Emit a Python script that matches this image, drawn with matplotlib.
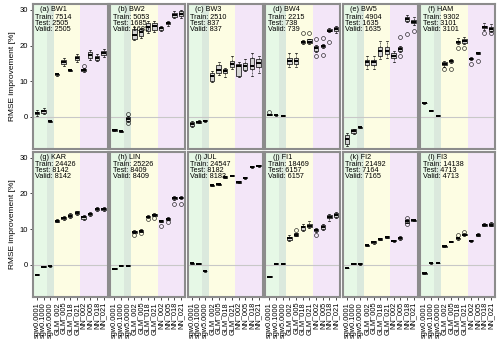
import matplotlib
matplotlib.use("Agg")
import matplotlib.pyplot as plt

plt.rcParams['font.family'] = ['Liberation Sans', 'DejaVu Sans']

# categories on the x axis
models = ["sgw0.0001", "sgw0.1000", "sgw5.0000", "GLM_002", "GLM_005", "GLM_018",
          "GLM_021", "NN_002", "NN_005", "NN_018", "NN_021"]

# one entry per panel
letters = ["a", "b", "c", "d", "e", "f", "g", "h", "i", "j", "k", "l"]
sites = ["BW1", "BW2", "BW3", "BW4", "BW5", "HAM", "KAR", "LIN", "JUL", "FI1", "FI2", "FI3"]
n_train = [7514, 5053, 2510, 2215, 4904, 9302, 24426, 25226, 24547, 18469, 21492, 14138]
n_test = [2505, 1685, 837, 738, 1635, 3101, 8142, 8409, 8182, 6157, 7164, 4713]
n_valid = [2505, 1685, 837, 739, 1635, 3101, 8142, 8409, 8183, 6157, 7165, 4713]

# boxplot statistics
medians = [
    [1.1, 1.6, -1.2, 11.9, 15.3, 13.1, 16.4, 13.2, 17.4, 16.6, 17.9],
    [-3.7, -4.0, -0.5, 23.0, 23.9, 25.3, 25.5, 24.9, 26.2, 28.6, 28.9],
    [-1.9, -1.3, -1.1, 11.4, 13.2, 12.8, 14.9, 14.2, 14.2, 14.4, 15.1],
    [0.65, 0.55, 0.4, 15.8, 15.8, 20.9, 21.1, 19.2, 19.8, 24.2, 24.6],
    [-6.3, -4.0, -2.9, 15.4, 15.4, 18.6, 18.5, 17.1, 19.1, 27.4, 26.7],
    [3.9, 1.8, 0.4, 14.9, 15.6, 20.9, 21.3, 16.3, 17.9, 25.2, 24.7],
    [-2.7, -0.55, -0.35, 12.4, 13.05, 13.8, 14.6, 13.3, 14.2, 15.6, 15.6],
    [-1.1, -0.2, -0.2, 9.3, 9.6, 13.5, 14.0, 12.3, 12.9, 18.7, 18.8],
    [0.45, 0.3, -1.7, 22.3, 22.6, 24.6, 25.0, 23.2, 24.4, 27.5, 27.7],
    [-3.3, 0.35, 0.35, 7.5, 8.5, 10.5, 11.0, 9.7, 10.7, 13.5, 13.9],
    [-0.85, 0.3, 0.35, 5.55, 6.3, 7.3, 7.8, 6.8, 7.5, 12.3, 12.5],
    [-2.4, 0.55, 0.55, 5.2, 6.5, 7.4, 8.5, 6.7, 8.4, 11.2, 11.2],
]
q1 = [
    [0.7, 1.2, -1.35, 11.7, 14.7, 12.95, 15.9, 12.9, 16.6, 15.9, 17.3],
    [-3.9, -4.15, -1.1, 21.9, 22.6, 24.0, 24.3, 24.4, 25.9, 28.1, 28.2],
    [-2.4, -1.6, -1.25, 10.0, 12.2, 12.3, 14.0, 11.6, 13.2, 13.4, 13.9],
    [0.55, 0.45, 0.3, 14.9, 14.9, 20.6, 20.7, 18.6, 19.5, 24.0, 24.1],
    [-7.5, -4.5, -3.0, 14.5, 14.5, 17.2, 17.5, 16.6, 18.6, 27.0, 26.2],
    [3.8, 1.7, 0.3, 14.6, 15.3, 20.6, 20.8, 16.1, 17.7, 24.8, 24.1],
    [-2.8, -0.65, -0.45, 12.1, 12.8, 13.4, 14.3, 12.9, 13.9, 15.3, 15.3],
    [-1.2, -0.3, -0.3, 9.0, 9.3, 13.3, 13.8, 12.1, 12.7, 18.4, 18.6],
    [0.35, 0.2, -1.8, 22.15, 22.45, 24.45, 24.85, 23.05, 24.25, 27.35, 27.55],
    [-3.4, 0.25, 0.25, 7.1, 8.2, 9.9, 10.5, 9.4, 10.1, 13.0, 13.4],
    [-0.95, 0.2, 0.15, 5.4, 6.0, 7.1, 7.6, 6.6, 7.2, 11.8, 12.35],
    [-2.5, 0.45, 0.45, 5.05, 6.35, 7.2, 8.3, 6.55, 8.2, 10.9, 10.9],
]
q3 = [
    [1.5, 2.0, -1.05, 12.1, 15.9, 13.25, 17.0, 13.5, 18.2, 17.2, 18.4],
    [-3.5, -3.85, 0.1, 24.5, 24.6, 26.4, 26.4, 25.3, 26.6, 29.2, 29.6],
    [-1.4, -1.0, -0.95, 12.3, 14.5, 13.3, 15.8, 14.9, 15.2, 16.6, 16.1],
    [0.75, 0.65, 0.5, 16.6, 16.6, 21.3, 21.7, 20.0, 20.1, 24.6, 25.1],
    [-5.0, -3.5, -2.8, 16.0, 16.0, 19.6, 19.6, 18.0, 19.6, 27.9, 27.1],
    [4.0, 1.9, 0.5, 15.3, 15.9, 21.2, 21.9, 16.5, 18.1, 25.6, 25.3],
    [-2.6, -0.45, -0.25, 12.7, 13.4, 14.2, 15.0, 13.7, 14.5, 15.9, 15.9],
    [-1.0, -0.1, -0.1, 9.6, 9.9, 13.7, 14.2, 12.5, 13.1, 19.0, 19.0],
    [0.55, 0.4, -1.6, 22.45, 22.75, 24.75, 25.15, 23.35, 24.55, 27.65, 27.85],
    [-3.2, 0.45, 0.45, 7.9, 8.8, 11.0, 11.5, 10.0, 11.1, 14.0, 14.4],
    [-0.75, 0.4, 0.55, 5.7, 6.6, 7.5, 8.0, 7.0, 7.8, 12.7, 12.65],
    [-2.3, 0.65, 0.65, 5.35, 6.65, 7.6, 8.7, 6.85, 8.7, 11.5, 11.6],
]
whislo = [
    [0.3, 0.8, -1.4, 11.6, 14.3, 12.9, 15.5, 12.7, 16.0, 15.6, 16.9],
    [-4.0, -4.3, -1.3, 21.5, 22.0, 23.6, 23.8, 24.1, 25.6, 27.8, 27.8],
    [-2.7, -1.8, -1.3, 9.8, 11.8, 11.1, 13.3, 11.3, 12.8, 11.5, 12.3],
    [0.5, 0.4, 0.25, 14.0, 14.0, 20.3, 20.4, 18.2, 19.2, 23.8, 23.6],
    [-8.0, -4.7, -3.05, 13.5, 13.5, 16.2, 16.4, 15.5, 18.3, 26.7, 25.8],
    [3.75, 1.65, 0.25, 14.1, 15.1, 20.3, 20.4, 15.9, 17.5, 24.4, 23.9],
    [-2.85, -0.7, -0.5, 11.9, 12.6, 13.2, 14.1, 12.7, 13.7, 15.1, 15.1],
    [-1.25, -0.35, -0.35, 8.8, 9.1, 13.1, 13.6, 11.9, 12.5, 18.1, 18.4],
    [0.3, 0.15, -1.85, 22.05, 22.35, 24.35, 24.75, 22.95, 24.15, 27.25, 27.45],
    [-3.45, 0.2, 0.2, 6.6, 8.0, 9.6, 10.2, 9.2, 9.8, 12.3, 13.0],
    [-1.0, 0.15, 0.05, 5.3, 5.8, 7.0, 7.5, 6.5, 7.0, 11.7, 12.3],
    [-2.55, 0.35, 0.4, 5.0, 6.3, 7.1, 8.2, 6.5, 8.1, 10.8, 10.8],
]
whishi = [
    [1.9, 2.4, -1.0, 12.2, 16.4, 13.3, 17.5, 13.7, 18.7, 17.5, 18.9],
    [-3.4, -3.7, 0.3, 25.3, 25.0, 26.8, 27.0, 25.6, 26.9, 29.6, 30.0],
    [-1.2, -0.8, -0.9, 12.8, 15.5, 13.8, 17.0, 15.3, 16.2, 17.9, 17.1],
    [0.8, 0.7, 0.55, 17.9, 17.9, 21.5, 21.9, 20.2, 20.3, 24.8, 25.5],
    [-4.6, -3.3, -2.75, 17.2, 17.2, 21.3, 21.4, 18.6, 20.0, 28.6, 28.0],
    [4.05, 1.95, 0.55, 15.7, 16.3, 22.0, 22.5, 16.7, 18.3, 26.2, 25.9],
    [-2.55, -0.4, -0.2, 12.9, 13.6, 14.4, 15.2, 13.9, 14.7, 16.1, 16.1],
    [-0.95, -0.05, -0.05, 9.8, 10.1, 13.9, 14.4, 12.7, 13.3, 19.3, 19.2],
    [0.6, 0.45, -1.55, 22.55, 22.85, 24.85, 25.25, 23.45, 24.65, 27.75, 27.95],
    [-3.15, 0.5, 0.5, 8.4, 9.0, 11.5, 12.3, 10.2, 11.4, 14.3, 14.8],
    [-0.7, 0.45, 0.65, 5.8, 6.8, 7.6, 8.1, 7.1, 8.0, 12.9, 12.7],
    [-2.25, 0.8, 0.7, 5.4, 6.7, 7.7, 8.8, 6.9, 8.8, 11.6, 12.0],
]
outliers = [
    [[], [], [], [], [], [], [], [14.4], [], [], []],
    [[], [], [0.8, -1.6], [], [], [], [], [], [], [], []],
    [[], [], [], [], [], [], [], [], [], [], []],
    [[1.5], [], [], [], [], [23.5], [23.5], [17.0, 21.8], [17.4, 22.0], [20.9], []],
    [[], [], [], [], [], [], [], [], [17.0, 22.3], [23.2], [24.0]],
    [[], [], [], [13.3], [13.3], [19.4], [19.4], [14.8], [15.6], [23.4], [23.4]],
    [[], [], [], [], [], [], [], [], [], [], []],
    [[], [], [], [8.3], [9.0], [12.8], [13.2], [11.0], [11.9], [17.1], [17.1]],
    [[], [], [], [], [], [], [], [], [], [], []],
    [[], [], [], [], [9.9], [], [], [8.4], [], [], []],
    [[], [], [], [], [], [], [], [], [], [13.2, 11.4], []],
    [[], [], [], [], [], [8.3], [9.3], [], [], [], []],
]


def main():
    fig, axes = plt.subplots(2, 6, figsize=(5, 3.43), dpi=100, sharey=True)
    fig.subplots_adjust(left=0.066, right=0.99, top=0.988, bottom=0.134,
                        wspace=0.04, hspace=0.02)
    pos = list(range(1, len(models) + 1))

    for k, ax in enumerate(axes.flat):
        # background shading per model group
        ax.axvspan(0.4, 2.5, color="#e6f8e6", lw=0, zorder=0)
        ax.axvspan(2.5, 3.5, color="#dbe9dd", lw=0, zorder=0)
        ax.axvspan(3.5, 7.5, color="#fdfde3", lw=0, zorder=0)
        ax.axvspan(7.5, 11.6, color="#f3e6f8", lw=0, zorder=0)
        ax.axhline(0, color="#c8c8c8", lw=0.8, zorder=1)

        stats = []
        for i in range(len(models)):
            stats.append({"med": medians[k][i], "q1": q1[k][i], "q3": q3[k][i],
                          "whislo": whislo[k][i], "whishi": whishi[k][i],
                          "fliers": outliers[k][i]})
        ax.bxp(stats, positions=pos, widths=0.65, patch_artist=True,
               boxprops=dict(facecolor="#d3d3d3", edgecolor="black", lw=0.5),
               medianprops=dict(color="black", lw=1.4),
               whiskerprops=dict(color="black", lw=0.4, ls="--"),
               capprops=dict(color="black", lw=0.5),
               flierprops=dict(marker="o", markersize=2.8, markerfacecolor="none",
                               markeredgecolor="black", markeredgewidth=0.4),
               capwidths=0.3)

        ax.set_xlim(0.4, 11.6)
        ax.set_ylim(-9, 31.6)
        ax.set_yticks([0, 10, 20, 30])
        ax.tick_params(axis="both", labelsize=5.5, length=2, width=0.5, pad=1.5)
        for s in ax.spines.values():
            s.set_color("#8c8c8c")
            s.set_linewidth(1.5)

        ax.set_xticks(pos)
        if k >= 6:
            ax.set_xticklabels(models, rotation=90, fontsize=5.3)
        else:
            ax.tick_params(axis="x", bottom=False, labelbottom=False)
        if k % 6 == 0:
            ax.set_ylabel("RMSE improvement [%]", fontsize=6, labelpad=3)
        else:
            ax.tick_params(axis="y", left=False)

        ax.text(0.1, 0.985, "(%s) %s" % (letters[k], sites[k]), transform=ax.transAxes,
                fontsize=5.2, va="top", ha="left")
        ax.text(0.03, 0.935, "Train: %d\nTest: %d\nValid: %d" % (n_train[k], n_test[k], n_valid[k]),
                transform=ax.transAxes, fontsize=5.2, va="top", ha="left", linespacing=0.8)

    fig.savefig("out.png", dpi=100)
    plt.close(fig)


if __name__ == '__main__':
    main()
